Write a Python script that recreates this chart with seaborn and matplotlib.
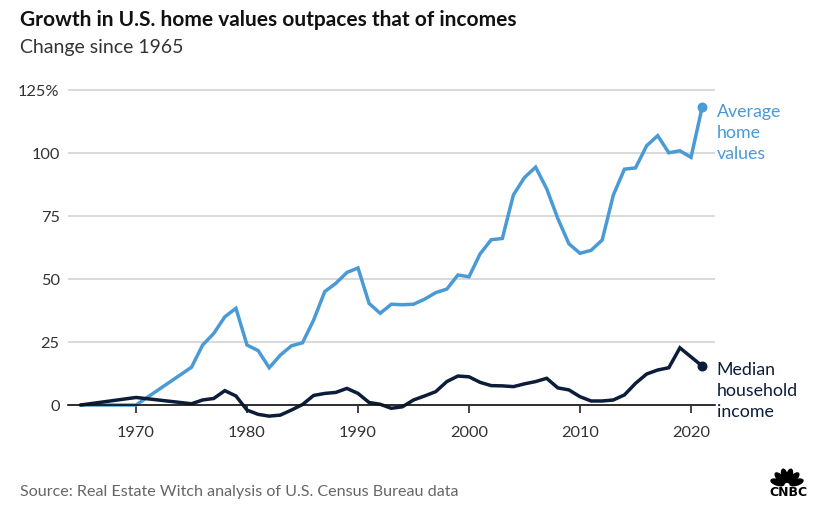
import matplotlib
matplotlib.use('Agg')
import matplotlib.pyplot as plt
import numpy as np
import pandas as pd
import seaborn as sns
from matplotlib.patches import Ellipse

# Data (change since 1965, %)
years = [1965, 1970, 1975, 1976, 1977, 1978, 1979, 1980, 1981, 1982, 1983, 1984,
         1985, 1986, 1987, 1988, 1989, 1990, 1991, 1992, 1993, 1994, 1995, 1996,
         1997, 1998, 1999, 2000, 2001, 2002, 2003, 2004, 2005, 2006, 2007, 2008,
         2009, 2010, 2011, 2012, 2013, 2014, 2015, 2016, 2017, 2018, 2019, 2020, 2021]
home_values = [0, 0, 15, 23.8, 28.4, 35, 38.4, 23.8, 21.6, 14.8, 19.8, 23.5,
               24.7, 33.7, 45, 48.3, 52.6, 54.4, 40.3, 36.4, 40, 39.8, 40, 42,
               44.6, 46, 51.6, 50.9, 60, 65.6, 66.1, 83.4, 90.3, 94.4, 85.8, 74,
               64, 60.2, 61.4, 65.5, 83.3, 93.6, 94.1, 102.9, 106.9, 100.1, 100.9, 98.3, 118.1]
income = [0, 3, 0.5, 2, 2.6, 5.7, 3.6, -2, -3.7, -4.4, -4, -2,
          0.2, 3.8, 4.6, 5, 6.6, 4.6, 1, 0.3, -1.3, -0.7, 2, 3.6,
          5.3, 9.3, 11.5, 11.2, 9, 7.7, 7.6, 7.3, 8.4, 9.3, 10.6, 6.8,
          6.0, 3.3, 1.6, 1.6, 2, 4, 8.6, 12.3, 13.9, 14.8, 22.7, 19.1, 15.5]
x_ticks = [1970, 1980, 1990, 2000, 2010, 2020]
y_ticks = [0, 25, 50, 75, 100, 125]
y_tick_labels = ['0', '25', '50', '75', '100', '125%']

BLUE = '#4a9ad6'
NAVY = '#0c1d3a'

df = pd.DataFrame({'year': years, 'home': home_values, 'income': income})

sns.set_theme(style='white')
plt.rcParams['font.family'] = ['Lato', 'DejaVu Sans']

fig = plt.figure(figsize=(8.24, 5.14), dpi=100)
ax = fig.add_axes([0.0825, 0.1728, 0.7852, 0.6618])

sns.lineplot(ax=ax, data=df, x='year', y='home', color=BLUE, linewidth=2.5,
             solid_joinstyle='miter')
sns.lineplot(ax=ax, data=df, x='year', y='income', color=NAVY, linewidth=2.5,
             solid_joinstyle='miter')

# End-point dots
ax.scatter([years[-1]], [home_values[-1]], s=38, color=BLUE, zorder=5)
ax.scatter([years[-1]], [income[-1]], s=38, color=NAVY, zorder=5)

# Axes layout
ax.set_xlim(1963.87, 2022.16)
ax.set_ylim(-8, 127)
ax.set_xticks(x_ticks)
ax.set_yticks(y_ticks)
ax.set_yticklabels(y_tick_labels)
ax.set_xlabel('')
ax.set_ylabel('')
for side in ['top', 'right', 'left']:
    ax.spines[side].set_visible(False)
ax.spines['bottom'].set_position(('data', 0))
ax.spines['bottom'].set_color('#111111')
ax.spines['bottom'].set_linewidth(1.2)
ax.yaxis.grid(True, color='#d0d0d0', linewidth=1.1)
ax.set_axisbelow(True)
ax.tick_params(axis='x', length=6, width=1.1, color='#111111', direction='out',
               pad=9, labelsize=11.8, labelcolor='#333333', bottom=True)
ax.tick_params(axis='y', length=0, pad=6, labelsize=11.8, labelcolor='#333333')

# Series labels
ax.text(2022.3, 119.5, 'Average\nhome\nvalues', color=BLUE, fontsize=12.8,
        va='top', ha='left', linespacing=1.38, clip_on=False)
ax.text(2022.3, 17.0, 'Median\nhousehold\nincome', color=NAVY, fontsize=12.8,
        va='top', ha='left', linespacing=1.38, clip_on=False)

# Titles and source
fig.text(20 / 824, 1 - 20 / 514, 'Growth in U.S. home values outpaces that of incomes',
         fontsize=15, fontweight='bold', color='#111111', va='center', ha='left')
fig.text(20 / 824, 1 - 48 / 514, 'Change since 1965', fontsize=14,
         color='#333333', va='center', ha='left')
fig.text(20 / 824, 1 - 492 / 514, 'Source: Real Estate Witch analysis of U.S. Census Bureau data',
         fontsize=11.6, color='#666666', va='center', ha='left')

# Simple CNBC peacock mark
logo = fig.add_axes([766 / 824, 1 - 487 / 514, 42 / 824, 26 / 514])
logo.set_xlim(-21, 21)
logo.set_ylim(0, 26)
logo.axis('off')
for ang in [18, 47, 76, 104, 133, 162]:
    r = np.deg2rad(ang)
    cx, cy = 10 * np.cos(r), 1.5 + 10 * np.sin(r)
    logo.add_patch(Ellipse((cx, cy), 5.5, 13.5, angle=ang - 90, color='black'))
fig.text(788 / 824, 1 - 493 / 514, 'CNBC', fontsize=9, fontweight='bold',
         color='black', ha='center', va='center', family='DejaVu Sans')

fig.savefig('out.png', dpi=100)
